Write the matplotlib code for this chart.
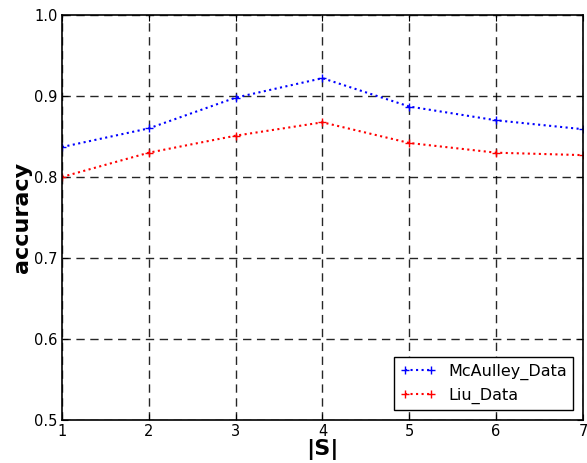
import matplotlib
matplotlib.use("Agg")
import matplotlib.pyplot as plt

x = [1, 2, 3, 4, 5, 6, 7]
mcaulley = [0.837, 0.860, 0.898, 0.922, 0.887, 0.870, 0.859]
liu = [0.800, 0.830, 0.851, 0.8675, 0.842, 0.830, 0.827]
xticks = [1, 2, 3, 4, 5, 6, 7]
yticks = [0.5, 0.6, 0.7, 0.8, 0.9, 1.0]

fig = plt.figure(figsize=(5.87, 4.63), dpi=100)
ax = fig.add_axes([0.1056, 0.0929, 0.8875, 0.8747])
ax.plot(x, mcaulley, 'b:+', lw=1.5, ms=6, mew=1.0, label='McAulley_Data')
ax.plot(x, liu, 'r:+', lw=1.5, ms=6, mew=1.0, label='Liu_Data')
ax.set_xlim(1, 7)
ax.set_ylim(0.5, 1.0)
ax.set_xticks(xticks)
ax.set_yticks(yticks)
ax.set_yticklabels([f"{v:.1f}" for v in yticks])
ax.grid(True, color='black', linestyle=(0, (6, 4)), linewidth=1.0, alpha=0.85)
ax.tick_params(direction='in', length=4, top=True, right=True, labelsize=10.5, pad=3)
ax.set_xlabel('|S|', fontsize=16, fontweight='bold')
ax.set_ylabel('accuracy', fontsize=16, fontweight='bold')
ax.xaxis.set_label_coords(0.5, -0.047)
ax.yaxis.set_label_coords(-0.058, 0.5)
for s in ax.spines.values():
    s.set_linewidth(1.2)
leg = ax.legend(loc='lower right', fontsize=11.5, fancybox=False, framealpha=1,
                edgecolor='black', borderaxespad=0.6, handlelength=2.2, numpoints=2)
leg.get_frame().set_linewidth(1.0)
fig.savefig('out.png', dpi=100)
